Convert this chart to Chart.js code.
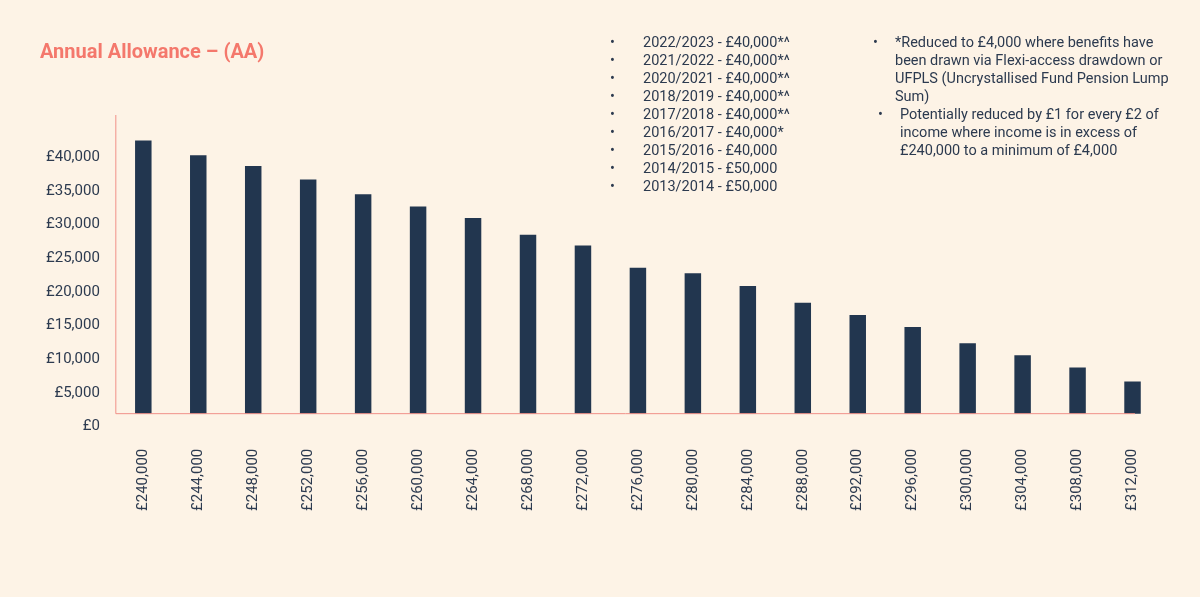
<!DOCTYPE html>
<html>
<head>
<meta charset="utf-8">
<script src="https://cdn.jsdelivr.net/npm/chart.js@4"></script>
<style>
  body { margin: 0; background: #fdf3e6; font-family: Roboto, sans-serif; color: #2c3a4f; }
  #wrap { position: absolute; left: 0; top: 0; width: 1200px; height: 597px; }
  .title { position: absolute; left: 40px; top: 39px; font-size: 20px; font-weight: bold; color: #f4786c; }
  .notes { position: absolute; font-size: 14.5px; line-height: 18px; margin: 0; padding: 0; list-style: none; }
  .notes li { position: relative; }
</style>
</head>
<body>
<div id="wrap"><canvas id="c" width="1200" height="597"></canvas></div>
<div class="title">Annual Allowance – (AA)</div>
<ul class="notes" style="left:610px; top:34px;" id="years"></ul>
<ul class="notes" style="left:875px; top:34px; width:310px;">
  <li style="padding-left:20px;"><span style="position:absolute;left:-2px">•</span>*Reduced to £4,000 where benefits have been drawn via Flexi-access drawdown or UFPLS (Uncrystallised Fund Pension Lump Sum)</li>
  <li style="padding-left:25px;"><span style="position:absolute;left:3px">•</span>Potentially reduced by £1 for every £2 of income where income is in excess of £240,000 to a minimum of £4,000</li>
</ul>
<script>
const incomes = ['£240,000','£244,000','£248,000','£252,000','£256,000','£260,000','£264,000','£268,000','£272,000','£276,000','£280,000','£284,000','£288,000','£292,000','£296,000','£300,000','£304,000','£308,000','£312,000'];
const allowance = [42500, 40300, 38700, 36700, 34500, 32700, 31000, 28500, 26900, 23600, 22800, 20900, 18400, 16600, 14800, 12400, 10600, 8800, 6700];
const yTicks = [0, 5000, 10000, 15000, 20000, 25000, 30000, 35000, 40000];
const yearNotes = ['2022/2023 - £40,000*^','2021/2022 - £40,000*^','2020/2021 - £40,000*^','2018/2019 - £40,000*^','2017/2018 - £40,000*^','2016/2017 - £40,000*','2015/2016 - £40,000','2014/2015 - £50,000','2013/2014 - £50,000'];

const ul = document.getElementById('years');
yearNotes.forEach(t => {
  const li = document.createElement('li');
  li.style.paddingLeft = '33px';
  li.innerHTML = '<span style="position:absolute;left:0">•</span>' + t;
  ul.appendChild(li);
});

const BASE = 1940; // bars and axis line start slightly above the £0 tick
const axisLines = {
  id: 'axisLines',
  afterDatasetsDraw(chart) {
    const { ctx, scales: { x, y } } = chart;
    const yb = y.getPixelForValue(BASE);
    ctx.save();
    ctx.strokeStyle = '#f09088';
    ctx.lineWidth = 1;
    ctx.beginPath();
    ctx.moveTo(x.left, y.top); ctx.lineTo(x.left, yb);
    ctx.lineTo(x.right - 25, yb);
    ctx.stroke();
    ctx.restore();
  }
};

new Chart(document.getElementById('c'), {
  type: 'bar',
  data: {
    labels: incomes,
    datasets: [{
      data: allowance,
      base: BASE,
      backgroundColor: '#22364f',
      barPercentage: 0.3,
      categoryPercentage: 1
    }]
  },
  options: {
    responsive: false,
    animation: false,
    layout: { padding: { top: 115, right: 40, bottom: 72, left: 38 } },
    plugins: { legend: { display: false }, tooltip: { enabled: false } },
    scales: {
      x: {
        grid: { display: false }, border: { display: false },
        ticks: { color: '#2c3a4f', font: { family: 'Roboto', size: 15 }, minRotation: 90, maxRotation: 90, padding: 14 }
      },
      y: {
        min: 0, max: 46270,
        grid: { display: false }, border: { display: false },
        afterBuildTicks(s) { s.ticks = yTicks.map(v => ({ value: v })); },
        ticks: {
          color: '#2c3a4f', font: { family: 'Roboto', size: 15 }, padding: 8,
          callback: v => '£' + v.toLocaleString('en-GB')
        }
      }
    }
  },
  plugins: [axisLines]
});
</script>
</body>
</html>
